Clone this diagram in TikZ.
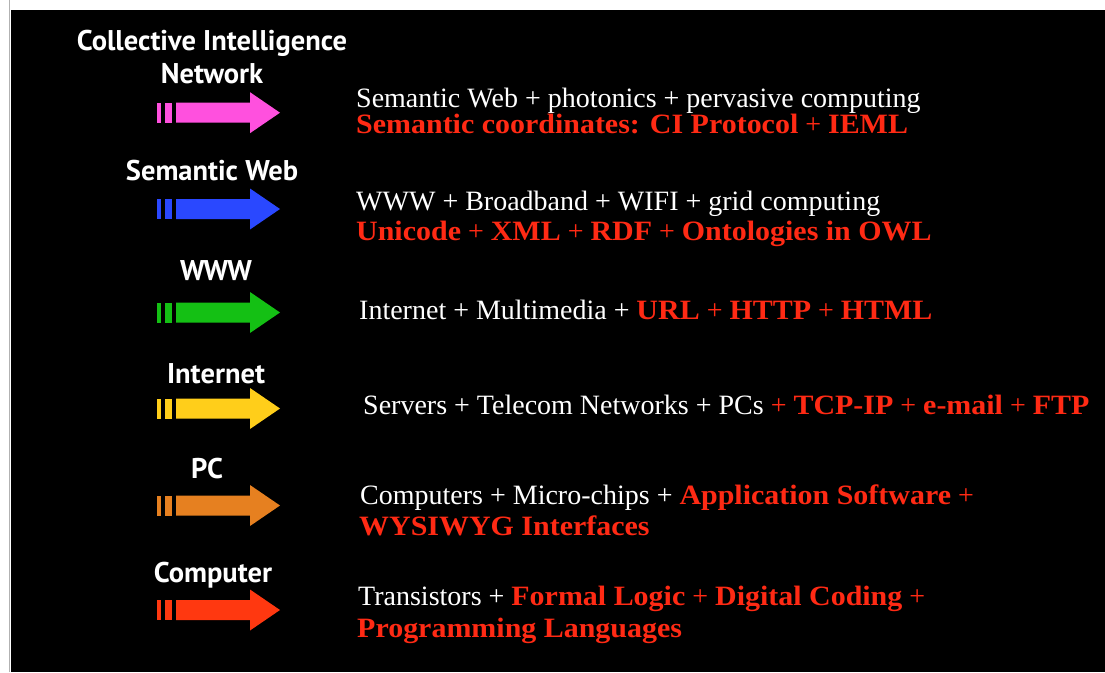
\documentclass[tikz,border=0pt]{standalone}
\usepackage{fontspec}
\setmainfont{Liberation Serif}
\newfontfamily\labfam{PT Sans}
\newfontfamily\redfam[FakeStretch=1.07]{Liberation Serif}
\definecolor{cpink}{RGB}{255,80,222}
\definecolor{cblue}{RGB}{42,72,255}
\definecolor{cgreen}{RGB}{20,192,20}
\definecolor{cyellow}{RGB}{255,206,26}
\definecolor{corange}{RGB}{230,128,32}
\definecolor{cred}{RGB}{255,56,16}
\definecolor{txtred}{RGB}{255,42,20}
\newcommand\rb[1]{{\redfam\bfseries\color{txtred}#1}}
\newcommand\rp{{\color{txtred}+}}
\newcommand\tarrow[2]{%
  \fill[#1] (157,#2-10) rectangle (161,#2+10);
  \fill[#1] (165,#2-10) rectangle (172,#2+10);
  \fill[#1] (176,#2-10) -- (250,#2-10) -- (250,#2-20.5) -- (280,#2) -- (250,#2+20.5) -- (250,#2+10) -- (176,#2+10) -- cycle;}
\tikzset{
  lab/.style={text=white,font=\labfam\bfseries\fontsize{28.5}{30}\selectfont,anchor=base,inner sep=0pt},
  desc/.style={text=white,font=\fontsize{28}{30}\selectfont,anchor=base west,inner sep=0pt}
}
\begin{document}
\begin{tikzpicture}[x=1pt,y=-1pt]
\useasboundingbox (0,0) rectangle (1105,672);
\fill[white] (0,0) rectangle (1105,672);
\fill[black] (11,10) rectangle (1105,672);
\draw[gray!60,line width=1.5pt] (9.5,0) -- (9.5,672);
% arrows
\tarrow{cpink}{112.7}
\tarrow{cblue}{209}
\tarrow{cgreen}{312.5}
\tarrow{cyellow}{408.5}
\tarrow{corange}{505.5}
\tarrow{cred}{610}
% labels
\node[lab] (l1) at (212,50) {Collective Intelligence};
\node[lab] (l1b) at (212,83) {Network};
\node[lab] (l2) at (212,180) {Semantic Web};
\node[lab] (l3) at (216,280) {WWW};
\node[lab] (l4) at (216,383) {Internet};
\node[lab] (l5) at (207,478) {PC};
\node[lab] (l6) at (213,582) {Computer};
% descriptions
\node[desc] (d1a) at (356,107) {Semantic Web + photonics + pervasive computing};
\node[desc] (d1b) at (356,133) {\rb{Semantic coordinates: CI Protocol} \rp{} \rb{IEML}};
\node[desc] (d2a) at (356,210) {WWW + Broadband + WIFI + grid computing};
\node[desc] (d2b) at (356,240) {\rb{Unicode} \rp{} \rb{XML} \rp{} \rb{RDF} \rp{} \rb{Ontologies in OWL}};
\node[desc] (d3) at (359,319) {Internet + Multimedia + \rb{URL} \rp{} \rb{HTTP} \rp{} \rb{HTML}};
\node[desc] (d4) at (363,414) {Servers + Telecom Networks + PCs \rp{} \rb{TCP-IP} \rp{} \rb{e-mail} \rp{} \rb{FTP}};
\node[desc] (d5a) at (360,504) {Computers + Micro-chips + \rb{Application Software} \rp};
\node[desc] (d5b) at (359,535) {\rb{WYSIWYG Interfaces}};
\node[desc] (d6a) at (358,605) {Transistors + \rb{Formal Logic} \rp{} \rb{Digital Coding} \rp};
\node[desc] (d6b) at (357,637) {\rb{Programming Languages}};
\end{tikzpicture}
\end{document}
